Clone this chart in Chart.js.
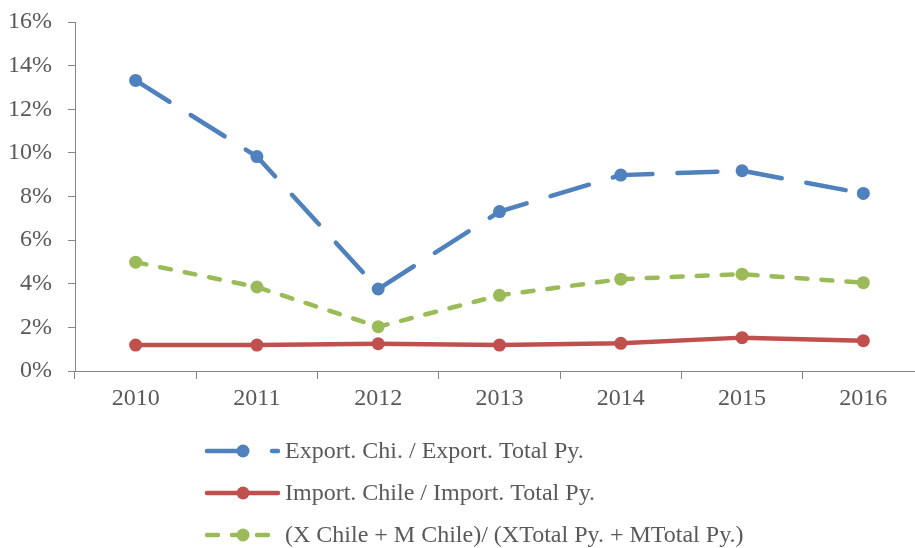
<!DOCTYPE html>
<html>
<head>
<meta charset="utf-8">
<script src="https://cdn.jsdelivr.net/npm/chart.js@4"></script>
<style>
  html, body { margin: 0; padding: 0; background: #fff; overflow: hidden; }
  #wrap { width: 935px; height: 548px; }
</style>
</head>
<body>
<div id="wrap"><canvas id="chart" width="935" height="548"></canvas></div>
<script>
const years = ['2010', '2011', '2012', '2013', '2014', '2015', '2016'];
const exportShare = [13.32, 9.83, 3.76, 7.31, 8.98, 9.18, 8.14];
const importShare = [1.19, 1.19, 1.25, 1.19, 1.27, 1.53, 1.39];
const tradeShare = [4.99, 3.85, 2.03, 3.47, 4.21, 4.44, 4.05];
const seriesNames = [
  'Export. Chi. / Export. Total Py.',
  'Import. Chile / Import. Total Py.',
  '(X Chile + M Chile)/ (XTotal Py. + MTotal Py.)'
];

const axisColor = '#868686';
const textColor = '#595959';
const font = { family: '"Liberation Serif", "Times New Roman", serif', size: 24 };

// vertical legend drawn under the plot, like the original
const stackedLegend = {
  id: 'stackedLegend',
  afterDraw(chart) {
    const ctx = chart.ctx;
    const x0 = 207, x1 = 278, xm = 243, xt = 285;
    chart.data.datasets.forEach((ds, i) => {
      const y = 451 + i * 42;
      ctx.save();
      ctx.strokeStyle = ds.borderColor;
      ctx.lineWidth = ds.borderWidth;
      ctx.lineCap = 'round';
      ctx.setLineDash(ds.borderDash || []);
      ctx.beginPath();
      ctx.moveTo(x0, y);
      ctx.lineTo(x1, y);
      ctx.stroke();
      ctx.setLineDash([]);
      ctx.fillStyle = ds.pointBackgroundColor;
      ctx.beginPath();
      ctx.arc(xm, y, ds.pointRadius, 0, Math.PI * 2);
      ctx.fill();
      ctx.fillStyle = textColor;
      ctx.font = font.size + 'px ' + font.family;
      ctx.textBaseline = 'middle';
      ctx.fillText(ds.label, xt, y + 1);
      ctx.restore();
    });
  }
};

function line(label, data, color, dash) {
  return {
    label: label,
    data: data,
    borderColor: color,
    backgroundColor: color,
    pointBackgroundColor: color,
    pointBorderColor: color,
    pointBorderWidth: 0,
    pointRadius: 6.5,
    borderWidth: 4.5,
    borderDash: dash,
    borderCapStyle: 'round',
    tension: 0,
    fill: false
  };
}

new Chart(document.getElementById('chart'), {
  type: 'line',
  data: {
    labels: years,
    datasets: [
      line(seriesNames[0], exportShare, '#4F81BD', [40, 25]),
      line(seriesNames[1], importShare, '#C0504D', []),
      line(seriesNames[2], tradeShare, '#9BBB59', [11, 14])
    ]
  },
  options: {
    responsive: false,
    animation: false,
    layout: { padding: { top: 22, right: 11, left: 0, bottom: 0 } },
    plugins: {
      legend: { display: false },
      tooltip: { enabled: false }
    },
    scales: {
      x: {
        offset: true,
        grid: { offset: true, drawOnChartArea: false, color: axisColor, tickLength: 8 },
        border: { color: axisColor, width: 1 },
        ticks: { color: textColor, font: font, padding: 5, maxRotation: 0 },
        afterFit(scale) { scale.height = 177; }
      },
      y: {
        min: 0,
        max: 16,
        grid: { drawOnChartArea: false, color: axisColor, tickLength: 7 },
        border: { color: axisColor, width: 1 },
        ticks: {
          stepSize: 2,
          color: textColor,
          font: font,
          padding: 16,
          callback: v => v + '%'
        },
        afterFit(scale) {
          scale.width = 75;
          scale.paddingTop = 0;
          scale.paddingBottom = 0;
        }
      }
    }
  },
  plugins: [stackedLegend]
});
</script>
</body>
</html>
